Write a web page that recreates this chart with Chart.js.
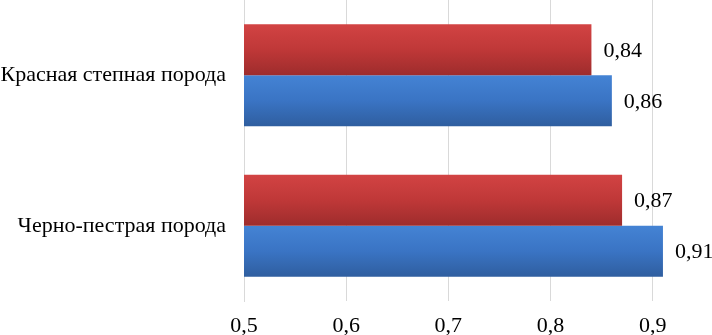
<!DOCTYPE html>
<html><head><meta charset="utf-8">
<script src="https://cdn.jsdelivr.net/npm/chart.js@4/dist/chart.umd.min.js"></script>
<style>html,body{margin:0;padding:0;background:#fff}#wrap{width:712px;height:335px;position:relative}</style>
</head><body><div id="wrap"><canvas id="c"></canvas></div>
<script>
const categories = ['Красная степная порода', 'Черно-пестрая порода'];
const seriesRed = [0.84, 0.87];
const seriesBlue = [0.86, 0.91];
const xTicks = [0.5, 0.6, 0.7, 0.8, 0.9];
const xMin = 0.5;
const xMax = 0.958;

const FONT = "'Liberation Serif', 'Times New Roman', serif";
const fmt = v => Number(v).toFixed(2).replace('.', ',');

const gradientPlugin = {
  id: 'grad',
  beforeDatasetsDraw(chart) {
    const ctx = chart.ctx;
    chart.data.datasets.forEach((ds, di) => {
      const meta = chart.getDatasetMeta(di);
      meta.data.forEach(el => {
        const top = el.y - el.height / 2, bot = el.y + el.height / 2;
        const g = ctx.createLinearGradient(0, top, 0, bot);
        ds.gradStops.forEach(([p, c]) => g.addColorStop(p, c));
        el.options.backgroundColor = g;
      });
    });
  }
};

const labelPlugin = {
  id: 'vals',
  afterDatasetsDraw(chart) {
    const ctx = chart.ctx;
    ctx.save();
    ctx.font = "22px " + FONT;
    ctx.fillStyle = '#000';
    ctx.textAlign = 'left';
    ctx.textBaseline = 'middle';
    chart.data.datasets.forEach((ds, di) => {
      const meta = chart.getDatasetMeta(di);
      meta.data.forEach((el, i) => {
        ctx.fillText(fmt(ds.data[i]), el.x + 12, el.y + 1);
      });
    });
    ctx.restore();
  }
};

new Chart(document.getElementById('c'), {
  type: 'bar',
  data: {
    labels: categories,
    datasets: [
      { label: 'Серия 1', data: seriesRed, backgroundColor: () => '#c0392b',
        gradStops: [[0, '#d24343'], [0.5, '#bf3838'], [1, '#9e2c2c']] },
      { label: 'Серия 2', data: seriesBlue, backgroundColor: () => '#3a70c0',
        gradStops: [[0, '#4483d4'], [0.5, '#3a74c4'], [1, '#2f5e9f']] }
    ]
  },
  options: {
    indexAxis: 'y',
    responsive: true,
    maintainAspectRatio: false,
    animation: false,
    layout: { padding: 0 },
    datasets: { bar: { categoryPercentage: 0.678, barPercentage: 1, borderWidth: 0 } },
    plugins: { legend: { display: false }, tooltip: { enabled: false } },
    scales: {
      x: {
        min: xMin, max: xMax,
        afterBuildTicks: axis => { axis.ticks = xTicks.map(v => ({ value: v })); },
        afterFit: axis => { axis.height = 34; axis.paddingLeft = 0; axis.paddingRight = 0; },
        grid: { color: '#d9d9d9', lineWidth: 1, drawTicks: false },
        border: { display: false },
        ticks: {
          padding: 14,
          color: '#000',
          font: { family: FONT, size: 22, lineHeight: 1 },
          maxRotation: 0,
          callback: v => Number(v).toFixed(1).replace('.', ',')
        }
      },
      y: {
        afterFit: axis => { axis.width = 244; axis.paddingTop = 0; axis.paddingBottom = 0; },
        grid: { display: false, drawTicks: false },
        border: { display: true, color: '#d9d9d9' },
        ticks: {
          padding: 18,
          color: '#000',
          font: { family: FONT, size: 22, lineHeight: 1 }
        }
      }
    }
  },
  plugins: [gradientPlugin, labelPlugin]
});
</script>
</body></html>
